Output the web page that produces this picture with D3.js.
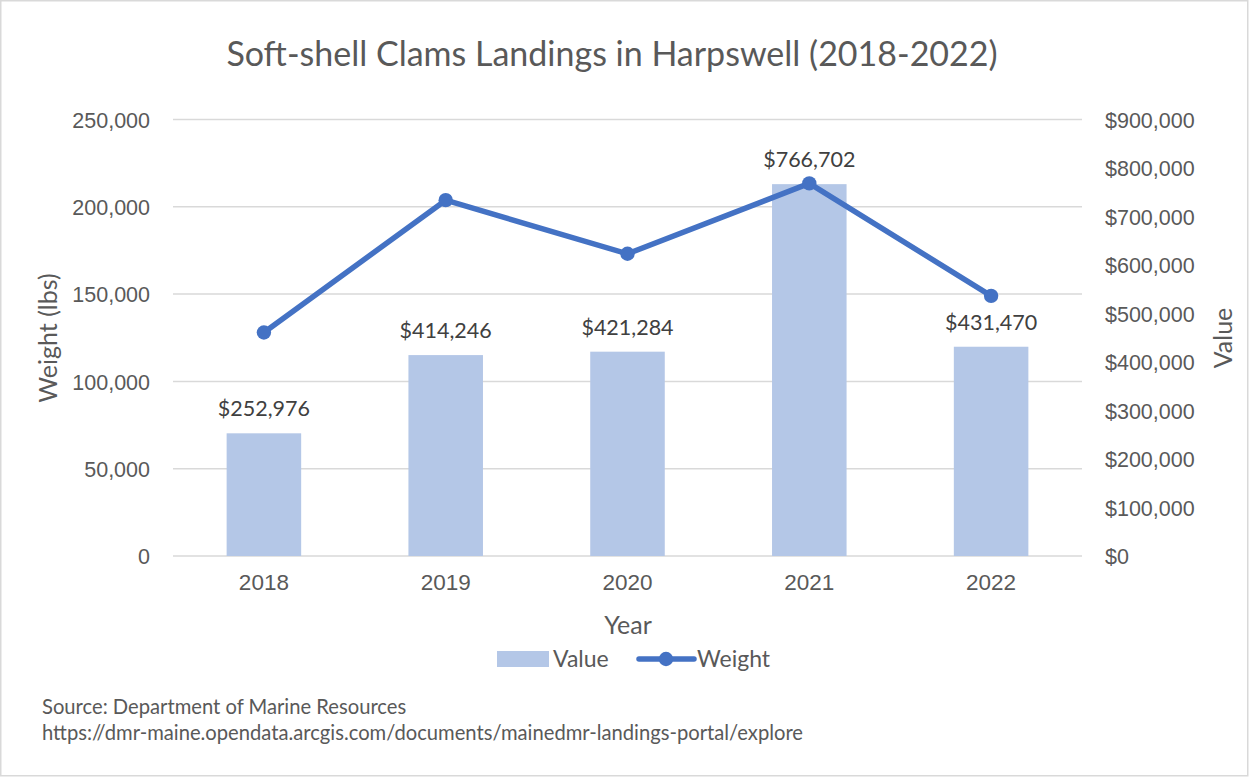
<!DOCTYPE html>
<html>
<head>
<meta charset="utf-8">
<script src="https://cdn.jsdelivr.net/npm/d3@7"></script>
<style>
    body { margin: 0; background: #ffffff; }
    svg { display: block; font-family: Lato, 'Liberation Sans', sans-serif; }
</style>
</head>
<body>
<svg id="chart-svg" width="1249" height="777"></svg>
<script>
// Chart data.
let years = ['2018', '2019', '2020', '2021', '2022'];
let values = [252976, 414246, 421284, 766702, 431470];
let weights = [128000, 203800, 173100, 213400, 149000];
let weightTicks = [0, 50000, 100000, 150000, 200000, 250000];
let valueTicks = [0, 100000, 200000, 300000, 400000, 500000, 600000, 700000, 800000, 900000];

let svg = d3.select('#chart-svg');

// Outer chart border.
svg.append('rect')
    .attr('x', 0.75)
    .attr('y', 0.75)
    .attr('width', 1247)
    .attr('height', 775)
    .attr('fill', '#ffffff')
    .attr('stroke', '#d9d9d9')
    .attr('stroke-width', 1.5);

// Plot area bounds.
let plotLeft = 173, plotRight = 1082, plotTop = 119.5, plotBottom = 556;

let xScale = d3.scaleBand()
    .domain(years)
    .range([plotLeft, plotRight])
    .paddingInner(0.59)
    .paddingOuter(0.295);

let weightScale = d3.scaleLinear()
    .domain([0, 250000])
    .range([plotBottom, plotTop]);

let valueScale = d3.scaleLinear()
    .domain([0, 900000])
    .range([plotBottom, plotTop]);

// Gridlines from the left axis.
svg.append('g')
    .attr('id', 'g-grid')
    .selectAll('line')
    .data(weightTicks)
    .join('line')
    .attr('x1', plotLeft)
    .attr('x2', plotRight)
    .attr('y1', d => weightScale(d))
    .attr('y2', d => weightScale(d))
    .attr('stroke', '#d9d9d9')
    .attr('stroke-width', 1.5);

// Left axis (Weight).
let yAxisLeft = d3.axisLeft(weightScale)
    .tickValues(weightTicks)
    .tickFormat(d3.format(','))
    .tickSize(0)
    .tickPadding(23);
let gLeft = svg.append('g')
    .attr('transform', `translate(${plotLeft},0)`)
    .call(yAxisLeft);
gLeft.select('.domain').remove();
gLeft.selectAll('text')
    .attr('fill', '#595959')
    .style('font-size', '21.5px')
    .attr('dy', '0.36em');

// Right axis (Value).
let yAxisRight = d3.axisRight(valueScale)
    .tickValues(valueTicks)
    .tickFormat(d => '$' + d3.format(',')(d))
    .tickSize(0)
    .tickPadding(23);
let gRight = svg.append('g')
    .attr('transform', `translate(${plotRight},0)`)
    .call(yAxisRight);
gRight.select('.domain').remove();
gRight.selectAll('text')
    .attr('fill', '#595959')
    .style('font-size', '21.5px')
    .attr('dy', '0.36em');

// Bars for value.
svg.append('g')
    .attr('id', 'g-bars')
    .selectAll('rect')
    .data(values)
    .join('rect')
    .attr('x', (d, i) => xScale(years[i]))
    .attr('y', d => valueScale(d))
    .attr('width', xScale.bandwidth())
    .attr('height', d => plotBottom - valueScale(d))
    .attr('fill', '#b4c7e7');

// Bottom axis (categories).
let xAxis = d3.axisBottom(xScale)
    .tickSize(0)
    .tickPadding(18);
let gX = svg.append('g')
    .attr('transform', `translate(0,${plotBottom})`)
    .call(xAxis);
gX.select('.domain').remove();
gX.selectAll('text')
    .attr('fill', '#595959')
    .style('font-size', '22.5px');

// Bar data labels.
svg.append('g')
    .attr('id', 'g-labels')
    .selectAll('text')
    .data(values)
    .join('text')
    .attr('x', (d, i) => xScale(years[i]) + xScale.bandwidth() / 2)
    .attr('y', d => valueScale(d) - 17)
    .attr('text-anchor', 'middle')
    .attr('fill', '#404040')
    .style('font-size', '21.5px')
    .text(d => '$' + d3.format(',')(d));

// Weight line with markers.
let line = d3.line()
    .x((d, i) => xScale(years[i]) + xScale.bandwidth() / 2)
    .y(d => weightScale(d));

svg.append('path')
    .datum(weights)
    .attr('d', line)
    .attr('fill', 'none')
    .attr('stroke', '#4472c4')
    .attr('stroke-width', 5.5)
    .attr('stroke-linejoin', 'round');

svg.append('g')
    .attr('id', 'g-points')
    .selectAll('circle')
    .data(weights)
    .join('circle')
    .attr('cx', (d, i) => xScale(years[i]) + xScale.bandwidth() / 2)
    .attr('cy', d => weightScale(d))
    .attr('r', 7.2)
    .attr('fill', '#4472c4');

// Title and axis titles.
svg.append('text')
    .attr('x', 612)
    .attr('y', 66)
    .attr('text-anchor', 'middle')
    .attr('fill', '#595959')
    .style('font-size', '34px')
    .text('Soft-shell Clams Landings in Harpswell (2018-2022)');

svg.append('text')
    .attr('transform', 'translate(57,338) rotate(-90)')
    .attr('text-anchor', 'middle')
    .attr('fill', '#595959')
    .style('font-size', '25px')
    .text('Weight (lbs)');

svg.append('text')
    .attr('transform', 'translate(1232,338) rotate(-90)')
    .attr('text-anchor', 'middle')
    .attr('fill', '#595959')
    .style('font-size', '25px')
    .text('Value');

svg.append('text')
    .attr('x', 628)
    .attr('y', 634)
    .attr('text-anchor', 'middle')
    .attr('fill', '#595959')
    .style('font-size', '25px')
    .text('Year');

// Legend.
let legend = svg.append('g').attr('id', 'g-legend');
legend.append('rect')
    .attr('x', 497)
    .attr('y', 651)
    .attr('width', 52)
    .attr('height', 16)
    .attr('fill', '#b4c7e7');
legend.append('text')
    .attr('x', 553)
    .attr('y', 667)
    .attr('fill', '#595959')
    .style('font-size', '23px')
    .text('Value');
legend.append('line')
    .attr('x1', 639)
    .attr('x2', 694)
    .attr('y1', 659)
    .attr('y2', 659)
    .attr('stroke', '#4472c4')
    .attr('stroke-width', 5.5)
    .attr('stroke-linecap', 'round');
legend.append('circle')
    .attr('cx', 666)
    .attr('cy', 659)
    .attr('r', 7.2)
    .attr('fill', '#4472c4');
legend.append('text')
    .attr('x', 697)
    .attr('y', 667)
    .attr('fill', '#595959')
    .style('font-size', '23px')
    .text('Weight');

// Source note.
svg.append('text')
    .attr('x', 42)
    .attr('y', 714)
    .attr('fill', '#595959')
    .style('font-size', '20.2px')
    .text('Source: Department of Marine Resources');
svg.append('text')
    .attr('x', 42)
    .attr('y', 740)
    .attr('fill', '#595959')
    .style('font-size', '20.2px')
    .text('https://dmr-maine.opendata.arcgis.com/documents/mainedmr-landings-portal/explore');
</script>
</body>
</html>
